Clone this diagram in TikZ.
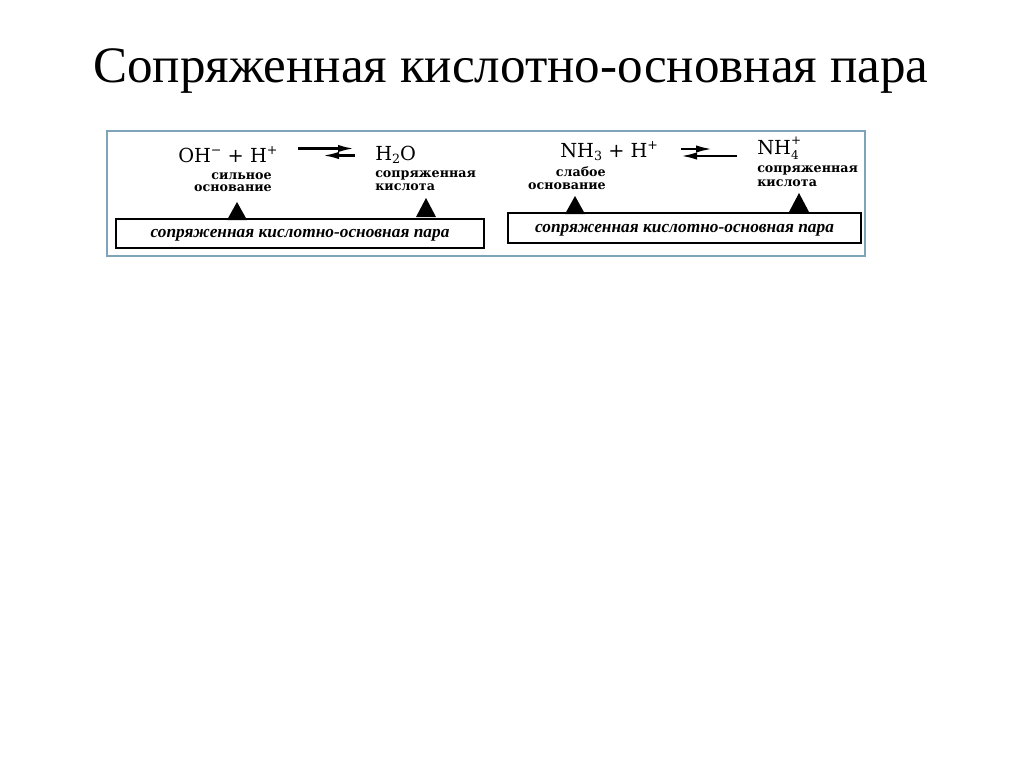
\documentclass[tikz,border=0pt]{standalone}
\usepackage{fontspec}
\setmainfont{Liberation Serif}
\newfontfamily\chemf{DejaVu Serif}
\newfontfamily\boxfont{Liberation Serif}
\usetikzlibrary{arrows.meta}
\definecolor{framec}{HTML}{7FA3B8}
\tikzset{
  formula/.style={inner sep=0pt, font=\chemf\fontsize{14.5}{16}\selectfont},
  lbl/.style={inner sep=0pt, font=\chemf\bfseries\fontsize{9.5}{11}\selectfont},
  pairbox/.style={draw=black, line width=1.4pt, inner sep=0pt, text depth=0pt, font=\boxfont\bfseries\itshape\fontsize{13}{15}\selectfont},
  eqarrow/.style={line width=1.6pt, -{Latex[length=12pt,width=5.5pt]}},
  tri/.style={fill=black}
}
\newcommand{\subn}[1]{\raisebox{-0.35ex}{\fontsize{9.5}{10}\selectfont #1}}
\newcommand{\supn}[1]{\raisebox{0.75ex}{\fontsize{9.5}{10}\selectfont #1}}
\begin{document}
\begin{tikzpicture}[x=0.75pt,y=-0.75pt]
\useasboundingbox (0,0) rectangle (1024,767);
\fill[white] (0,0) rectangle (1024,767);
% title
\node[anchor=base west, inner sep=0pt, font=\fontsize{38.3}{44}\selectfont] (title) at (93,83) {Сопряженная кислотно-основная пара};
% frame
\node[draw=framec, line width=1.5pt, minimum width=568.5pt, minimum height=93.75pt, inner sep=0pt] (frame) at (486,193.5) {};
% left reaction
\node[formula, anchor=base west] (oh) at (178,162) {OH\supn{−} + H\supn{+}};
\node[formula, anchor=base west] (h2o) at (375,160) {H\subn{2}O};
\coordinate (la1) at (298,148.5);
\coordinate (la2) at (354,148.5);
\coordinate (lb1) at (355,155.5);
\coordinate (lb2) at (323,155.5);
\draw[eqarrow] (la1) -- (la2);
\draw[eqarrow] (lb1) -- (lb2);
\node[lbl, anchor=base east] (sil1) at (272,179) {сильное};
\node[lbl, anchor=base east] (sil2) at (272,191.5) {основание};
\node[lbl, anchor=base west] (sk1) at (375,177.5) {сопряженная};
\node[lbl, anchor=base west] (sk2) at (375,190) {кислота};
\node[pairbox, minimum width=276pt, minimum height=21.75pt] (lbox) at (300,233.5) {сопряженная кислотно-основная пара};
\fill[tri] (227,220) -- (237,202) -- (247,220) -- cycle;
\fill[tri] (416,217) -- (426,198) -- (436,217) -- cycle;
% right reaction
\node[formula, anchor=base west] (nh3) at (560,157) {NH\subn{3} + H\supn{+}};
\node[formula, anchor=base west] (nh4) at (757,154) {NH\rlap{\raisebox{0.95ex}{\fontsize{9}{10}\selectfont +}}\raisebox{-0.55ex}{\fontsize{9}{10}\selectfont 4}};
\coordinate (ra1) at (681,149);
\coordinate (ra2) at (712,149);
\coordinate (rb1) at (737,156);
\coordinate (rb2) at (681,156);
\draw[eqarrow] (ra1) -- (ra2);
\draw[eqarrow] (rb1) -- (rb2);
\node[lbl, anchor=base east] (sl1) at (606,176.5) {слабое};
\node[lbl, anchor=base east] (sl2) at (606,189) {основание};
\node[lbl, anchor=base west] (rk1) at (757,172.5) {сопряженная};
\node[lbl, anchor=base west] (rk2) at (757,186.5) {кислота};
\node[pairbox, minimum width=264.75pt, minimum height=22.5pt] (rbox) at (684.5,228) {сопряженная кислотно-основная пара};
\fill[tri] (565,214) -- (575,196) -- (585,214) -- cycle;
\fill[tri] (789,212) -- (799,193) -- (809,212) -- cycle;
\end{tikzpicture}
\end{document}
